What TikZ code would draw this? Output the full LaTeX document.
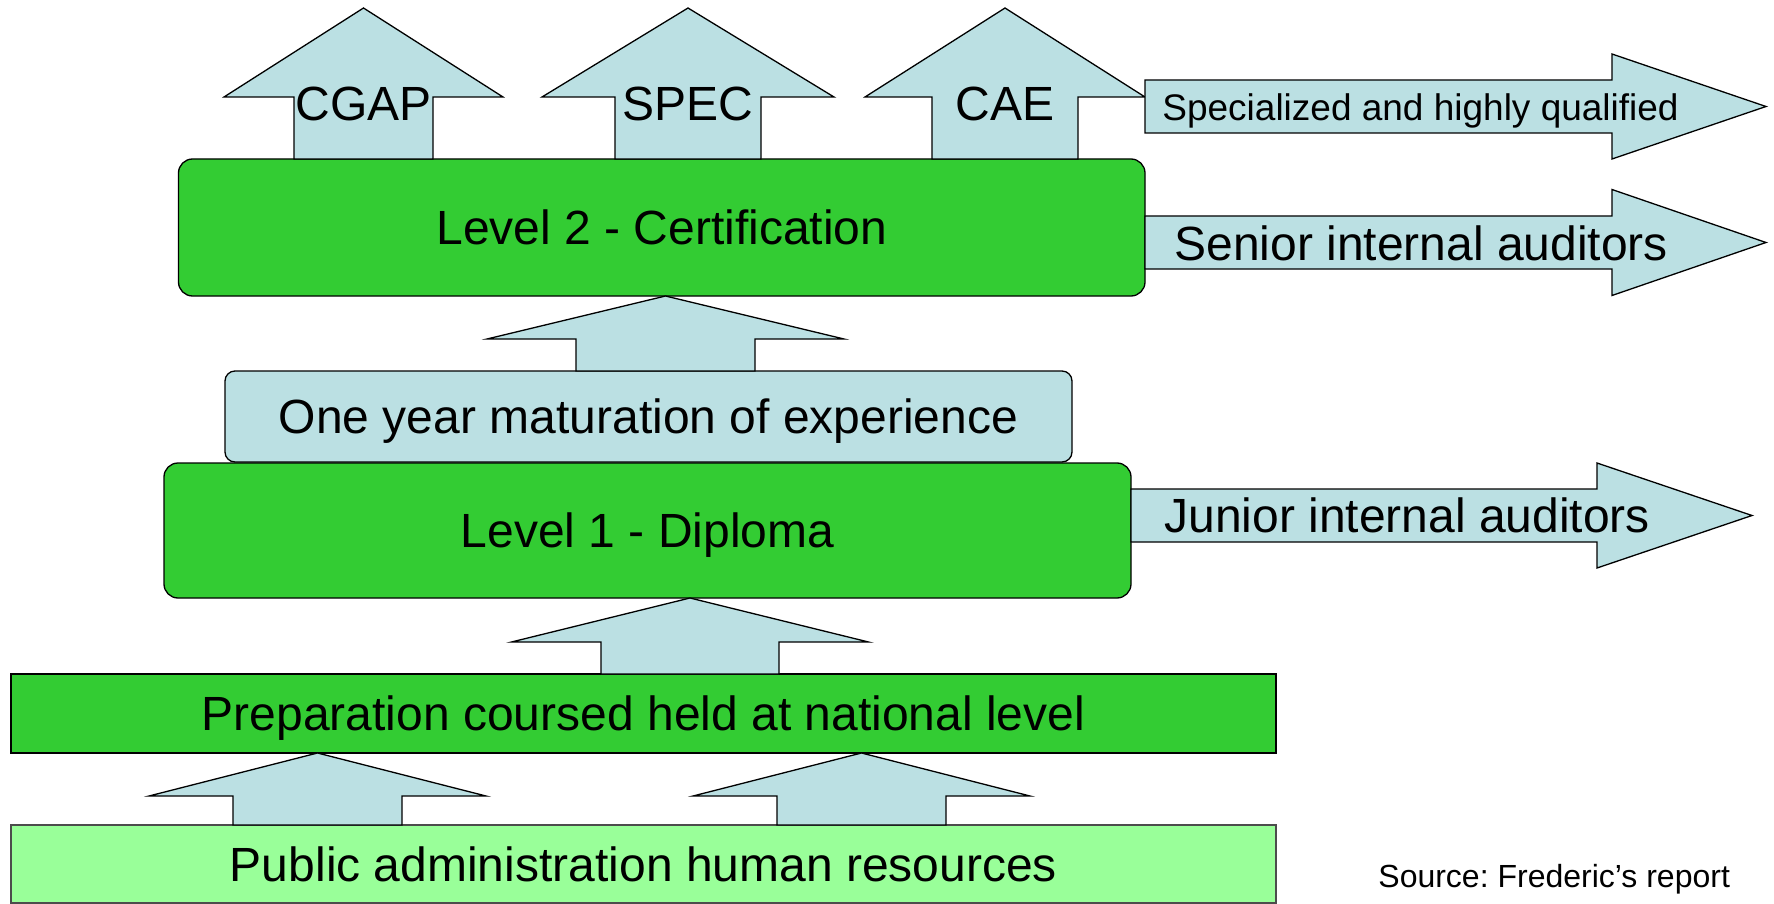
\documentclass[tikz,border=0pt]{standalone}
\usepackage{fontspec}
\setmainfont{Liberation Sans}
\usepackage{tikz}
\usetikzlibrary{positioning, calc}
\frenchspacing

\definecolor{levelgreen}{HTML}{33CC33}
\definecolor{basegreen}{HTML}{99FF99}
\definecolor{arrowblue}{HTML}{BBE0E3}

% fat up arrow: bottom, tip, head length, shaft half, head half
\newcommand{\blockup}[5]{%
  \draw[fatarrow] ($(#1)+(-#4,0)$) -- ($(#2)+(-#4,#3)$) -- ($(#2)+(-#5,#3)$) -- (#2)
    -- ($(#2)+(#5,#3)$) -- ($(#2)+(#4,#3)$) -- ($(#1)+(#4,0)$) -- cycle;}
% fat right arrow: start, tip, head length, shaft half, head half
\newcommand{\blockright}[5]{%
  \draw[fatarrow] ($(#1)+(0,-#4)$) -- ($(#2)+(-#3,-#4)$) -- ($(#2)+(-#3,-#5)$) -- (#2)
    -- ($(#2)+(-#3,#5)$) -- ($(#2)+(-#3,#4)$) -- ($(#1)+(0,#4)$) -- cycle;}

\begin{document}
\begin{tikzpicture}[
    x=0.5pt, y=-0.5pt,
    bigtext/.style={font=\fontsize{24}{28}\selectfont, text height=17.2pt, text depth=0pt},
    box/.style={draw, line width=0.65pt, inner sep=0pt, outer sep=0pt, bigtext},
    greenbox/.style={box, fill=levelgreen, rounded corners=7pt},
    fatarrow/.style={draw, fill=arrowblue, line width=0.65pt, line join=miter},
    label/.style={font=\fontsize{24}{28}\selectfont, inner sep=0pt},
    small/.style={font=\fontsize{18.5}{22}\selectfont, inner sep=0pt}
]
\useasboundingbox (0,0) rectangle (1774,904);
% Boxes
\node (lev2) [greenbox, minimum width=483.25pt, minimum height=68.5pt] at (661.75,227.5) {Level 2 - Certification};
\node (mat) [box, fill=arrowblue, rounded corners=5pt, minimum width=423.5pt, minimum height=45.5pt] at (648.5,416.5) {One year maturation of experience};
\node (lev1) [greenbox, minimum width=483.5pt, minimum height=67.5pt] at (647.5,530.5) {Level 1 - Diploma};
\node (prep) [box, fill=levelgreen, minimum width=632.5pt, minimum height=39.5pt] at (643.5,713.5) {Preparation coursed held at national level};
\node (pub) [box, draw=black!70, fill=basegreen, minimum width=632.5pt, minimum height=39pt] at (643.5,864) {Public administration human resources};
% Arrow ends
\coordinate (cgapb) at (363.5,0 |- lev2.north);
\coordinate (cgapt) at (363.5,8);
\coordinate (specb) at (688,0 |- lev2.north);
\coordinate (spect) at (688,8);
\coordinate (caeb) at (1005,0 |- lev2.north);
\coordinate (caet) at (1005,8);
\coordinate (matb) at (665.5,0 |- mat.north);
\coordinate (matt) at (665.5,0 |- lev2.south);
\coordinate (prepb) at (690,0 |- prep.north);
\coordinate (prept) at (690,0 |- lev1.south);
\coordinate (pubbl) at (317.5,0 |- pub.north);
\coordinate (pubtl) at (317.5,0 |- prep.south);
\coordinate (pubbr) at (861.5,0 |- pub.north);
\coordinate (pubtr) at (861.5,0 |- prep.south);
\coordinate (specs) at (lev2.east |- 0,106.5);
\coordinate (specend) at (1766,106.5);
\coordinate (sens) at (lev2.east |- 0,242.5);
\coordinate (senend) at (1766,242.5);
\coordinate (juns) at (lev1.east |- 0,515.5);
\coordinate (junend) at (1752,515.5);
% Up arrows
\blockup{cgapb}{cgapt}{89}{69.5}{139.5}
\blockup{specb}{spect}{89}{73}{146}
\blockup{caeb}{caet}{89}{73}{140}
\blockup{matb}{matt}{43}{89.5}{178.5}
\blockup{prepb}{prept}{44}{89}{178.5}
\blockup{pubbl}{pubtl}{43}{84.5}{168.5}
\blockup{pubbr}{pubtr}{43}{84.5}{168.5}
% Right arrows
\blockright{specs}{specend}{154}{26.5}{52.5}
\blockright{sens}{senend}{154}{26.5}{53}
\blockright{juns}{junend}{155}{26.5}{52.5}
% Labels
\node (cgap) [label, anchor=base] at (363.5,121) {CGAP};
\node (spec) [label, anchor=base] at (688,121) {SPEC};
\node (cae) [label, anchor=base] at (1005,121) {CAE};
\node (high) [small, anchor=base west] at (1162,121) {Specialized and highly qualified};
\node (senior) [label, anchor=base west] at (1174,260) {Senior internal auditors};
\node (junior) [label, anchor=base west] at (1164,532) {Junior internal auditors};
\node (source) [font=\fontsize{16}{19}\selectfont, inner sep=0pt, anchor=base west] at (1378,887) {Source: Frederic’s report};
\end{tikzpicture}
\end{document}
